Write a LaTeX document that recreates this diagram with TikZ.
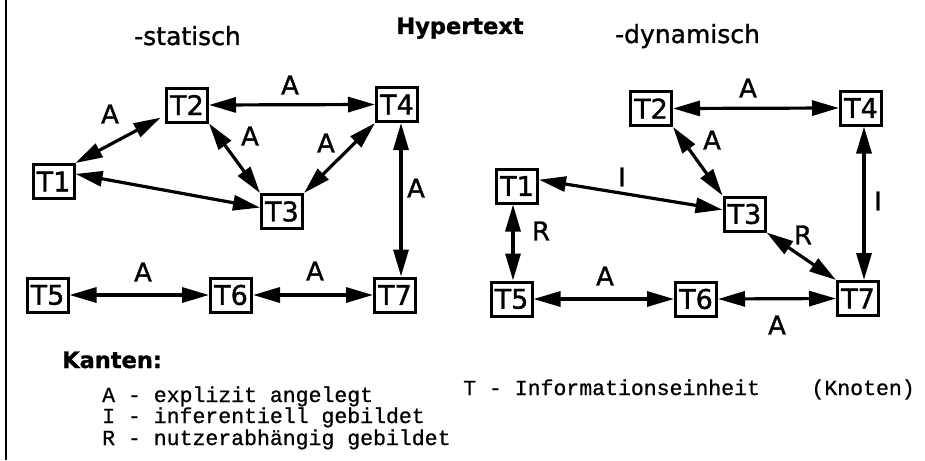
\documentclass[tikz,border=0pt]{standalone}
\usepackage{fontspec}
\setmainfont{DejaVu Sans}[FakeBold=1.2]
\newfontfamily\legendmono{Liberation Mono}[FakeBold=0.8]
\usetikzlibrary{arrows.meta}

\begin{document}
\begin{tikzpicture}[x=1pt,y=-1pt,
  unit/.style={draw, line width=3pt, minimum width=41pt, minimum height=34pt,
    inner sep=0pt, font=\fontsize{27}{27}\selectfont},
  link/.style={line width=3.2pt,
    {Triangle[length=27pt,width=15pt]}-{Triangle[length=27pt,width=15pt]}},
  lbl/.style={inner sep=0pt, font=\fontsize{26}{26}\selectfont},
  heading/.style={inner sep=0pt, anchor=base, font=\fontsize{25}{25}\selectfont},
  legend/.style={inner sep=0pt, anchor=base west, font=\legendmono\fontsize{21.5}{21}\selectfont}]

\useasboundingbox[fill=white] (0,0) rectangle (925,460);

% frame line on the left
\draw[line width=2.8pt] (6,0) -- (6,460);

% headings
\node[heading] (hstat) at (187.5,45) {-statisch};
\node[heading, font=\fontsize{22.5}{22}\selectfont\bfseries] (hhyp) at (460,34) {Hypertext};
\node[heading] (hdyn) at (687.5,43) {-dynamisch};

% static hypertext
\node[unit] (t1) at (53.5,181.5) {T1};
\node[unit] (t2) at (187,105) {T2};
\node[unit] (t3) at (282,211.5) {T3};
\node[unit] (t4) at (397,104.5) {T4};
\node[unit] (t5) at (47.5,295) {T5};
\node[unit] (t6) at (231,295) {T6};
\node[unit] (t7) at (395,295) {T7};

\draw[link, shorten >=5pt] (t1.north east) -- (t2.205);
\draw[link] (t1.19) -- (t3.170);
\draw[link] (t2.east) -- (t4.west);
\draw[link] (t2.south east) -- (t3.north west);
\draw[link] (t3.north east) -- (t4.south west);
\draw[link] ([xshift=4pt]t4.south) -- ([xshift=6pt]t7.north);
\draw[link] (t5.east) -- (t6.west);
\draw[link] (t6.east) -- (t7.west);

\node[lbl] (sa12) at (110,114) {A};
\node[lbl] (sa24) at (290,85) {A};
\node[lbl] (sa23) at (250,136) {A};
\node[lbl] (sa34) at (326,143) {A};
\node[lbl] (sa47) at (416,188) {A};
\node[lbl] (sa56) at (143,272) {A};
\node[lbl] (sa67) at (315,271) {A};

% dynamic hypertext
\node[unit] (u1) at (517,186) {T1};
\node[unit] (u2) at (651,108.5) {T2};
\node[unit] (u3) at (744.5,214) {T3};
\node[unit] (u4) at (861,108) {T4};
\node[unit] (u5) at (511.5,299) {T5};
\node[unit] (u6) at (696,299) {T6};
\node[unit] (u7) at (858,298.5) {T7};

\draw[link] (u2.east) -- (u4.west);
\draw[link] (u2.south east) -- (u3.north west);
\draw[link] (u1.16) -- (u3.169);
\draw[link] ([xshift=3pt]u4.south) -- ([xshift=6pt]u7.north);
\draw[link] (u3.south east) -- (u7.north west);
\draw[link] ([xshift=-4pt]u1.south) -- ([xshift=1.5pt]u5.north);
\draw[link] (u5.east) -- (u6.west);
\draw[link] (u6.east) -- (u7.west);

\node[lbl] (da24) at (748,88) {A};
\node[lbl] (da23) at (712,140) {A};
\node[lbl] (di13) at (622,177) {I};
\node[lbl] (di47) at (878,201) {I};
\node[lbl] (dr37) at (803,235) {R};
\node[lbl] (dr15) at (541,231) {R};
\node[lbl] (da56) at (605,276) {A};
\node[lbl] (da67) at (777,325) {A};

% legend
\node[heading, anchor=base west, font=\fontsize{22.5}{22}\selectfont\bfseries] (kanten) at (62,368) {Kanten:};
\node[legend] (la) at (102,402) {A - explizit angelegt};
\node[legend] (li) at (102,423) {I - inferentiell gebildet};
\node[legend] (lr) at (102,445) {R - nutzerabhängig gebildet};
\node[legend] (lt) at (463,395) {T - Informationseinheit\ \ \ \ (Knoten)};

\end{tikzpicture}
\end{document}
